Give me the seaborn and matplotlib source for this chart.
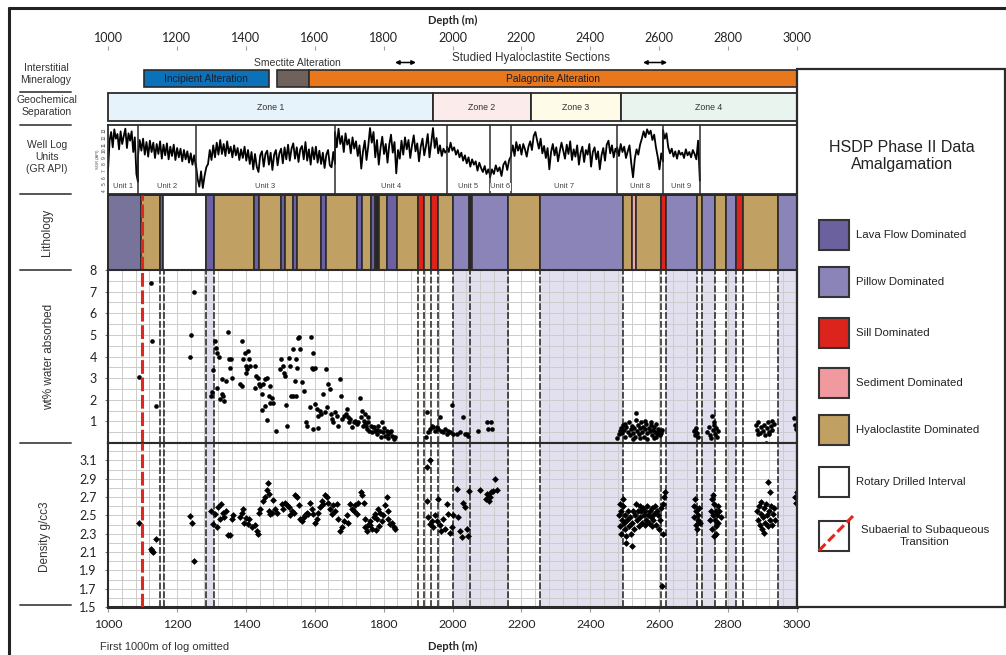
import numpy as np
import pandas as pd
import matplotlib
matplotlib.use('Agg')
import matplotlib.pyplot as plt
import seaborn as sns
from matplotlib.patches import Rectangle
from matplotlib.lines import Line2D

# ---------------- DATA ----------------
DEPTH_TICKS = [1000, 1200, 1400, 1600, 1800, 2000, 2200, 2400, 2600, 2800, 3000]

ALT_LABELS = ['Incipient Alteration', '', 'Palagonite Alteration']
ALT_START = [1104, 1490, 1583]
ALT_END = [1467, 1583, 3000]
ALT_COLORS = ['#0b72b9', '#6f615b', '#e8781b']
STUDIED_START = [1833, 2553]
STUDIED_END = [1894, 2623]

ZONE_LABELS = ['Zone 1', 'Zone 2', 'Zone 3', 'Zone 4']
ZONE_START = [1000, 1943, 2228, 2489]
ZONE_END = [1943, 2228, 2489, 3000]
ZONE_COLORS = ['#e7f3fa', '#fbebeb', '#fefbe9', '#e9f4ef']

UNIT_LABELS = ['Unit 1', 'Unit 2', 'Unit 3', 'Unit 4', 'Unit 5', 'Unit 6', 'Unit 7', 'Unit 8', 'Unit 9']
UNIT_BOUNDS = [1000, 1087, 1255, 1659, 1984, 2109, 2170, 2478, 2611, 2718]

GR_UNIT1 = [7.0, 11.5, 12.8, 10.5, 13.2, 11.8, 12.5, 10.2, 12.9, 11.0, 12.2, 13.3, 10.4, 12.6, 11.5, 12.9, 9.8, 12.0, 6.5, 5.3]
GR_UNIT2 = [9.2, 11.6, 10.0, 11.8, 9.4, 11.3, 9.1, 11.5, 9.8, 11.2, 8.9, 11.0, 9.5, 11.4, 8.8, 10.9, 9.3, 11.1,
            8.7, 10.6, 9.2, 10.9, 8.6, 10.4, 9.0, 10.3, 8.4, 10.1, 8.7, 9.9, 8.2, 9.6, 7.9, 9.3, 7.6]
GR_UNIT3 = [8.0, 5.8, 4.6, 6.9, 4.4, 6.2, 7.5, 8.0, 10.1, 8.6,
            10.8, 9.0, 11.2, 9.4, 11.6, 9.5, 11.0, 9.2, 11.4, 9.6, 10.6,
            9.0, 10.8, 9.3, 10.4, 8.6, 10.2, 8.9, 10.6, 8.5, 10.1,
            8.0, 9.8, 7.2, 9.5, 7.6, 6.8, 9.3, 9.9, 7.6, 9.5,
            10.0, 7.9, 9.7, 7.1, 9.4, 10.1, 7.8, 9.6, 10.3, 8.1,
            10.5, 8.7, 10.9, 8.5, 10.3, 11.1, 8.8, 10.5, 8.3, 10.2,
            10.7, 8.7, 11.3, 8.5, 10.2, 7.9, 10.5, 8.7, 10.6, 8.2,
            10.0, 8.0, 9.7, 7.4, 9.4, 10.1, 7.8, 7.5, 9.8, 8.0]
GR_UNIT4 = [12.8, 10.5, 13.3, 11.0, 12.2, 9.8, 12.6, 10.9, 11.7, 9.6, 12.0, 10.3, 11.4, 9.2, 10.8, 7.3, 9.9, 11.5,
            8.6, 10.7, 13.4, 11.2, 12.8, 9.0, 11.6, 7.9, 10.4, 12.1, 9.5, 11.0, 8.2, 10.9, 12.4, 9.7, 11.3, 6.6,
            10.1, 8.8, 11.5, 9.4, 12.0, 10.2, 11.6, 8.9, 10.8, 12.3, 9.9, 11.1, 8.4, 10.6, 11.8, 9.3, 10.7, 12.5,
            9.0, 11.2, 13.4, 10.4, 11.9, 9.6, 10.8, 9.2, 10.3, 9.7, 10.1]
GR_UNIT5 = [10.6, 9.8, 11.2, 10.0, 10.5, 9.4, 10.1, 9.0, 9.7, 8.5, 9.3, 8.1, 9.0, 7.6, 8.7, 7.9, 8.4, 7.0, 8.2,
            7.4, 6.8, 7.7, 6.5, 7.2, 6.3]
GR_UNIT6 = [6.0, 7.2, 6.5, 7.8, 6.9, 7.5, 6.2, 7.9, 8.4, 7.1, 8.6, 9.2]
GR_UNIT7 = [9.5, 10.8, 9.2, 11.3, 10.0, 10.9, 9.4, 11.0, 10.2, 9.1, 10.6, 11.4, 10.1, 12.2, 12.8, 11.5, 10.3, 11.8,
            9.6, 10.7, 8.9, 10.4, 7.2, 9.8, 11.0, 9.3, 10.5, 8.4, 9.9, 11.2, 10.0, 8.8, 10.9, 9.5, 11.4, 8.6, 10.2,
            9.1, 10.8, 7.9, 9.7, 10.6, 8.3, 10.1, 9.4, 11.0, 7.6, 9.8, 10.5, 8.7, 9.9, 7.2, 9.3, 10.4, 8.5, 10.9,
            11.5, 9.6, 10.8, 9.0, 10.3, 9.7]
GR_UNIT8 = [10.5, 9.2, 11.0, 9.8, 10.6, 8.9, 9.9, 10.8, 8.1, 6.0, 8.8, 10.2, 9.4, 10.9, 11.8, 12.9, 12.0, 13.2,
            12.5, 13.0, 11.6, 12.4, 10.5, 9.1, 7.2, 9.6, 8.4]
GR_UNIT9 = [13.1, 11.8, 12.6, 10.5, 9.6, 10.3, 9.1, 9.9, 8.8, 10.0, 9.4, 9.7, 8.9, 10.2, 9.3, 9.8, 9.0, 10.1,
            9.5, 8.7, 11.5, 5.5]
GR_UNITS = [GR_UNIT1, GR_UNIT2, GR_UNIT3, GR_UNIT4, GR_UNIT5, GR_UNIT6, GR_UNIT7, GR_UNIT8, GR_UNIT9]

LITH_START = [1000, 1096, 1151, 1160, 1284, 1308, 1425, 1439, 1502, 1515, 1536, 1550, 1619, 1633, 1722, 1737,
              1763, 1776, 1788, 1811, 1838, 1899, 1917, 1937, 1957, 2002, 2048, 2057, 2162, 2254, 2496, 2520,
              2533, 2604, 2621, 2710, 2725, 2762, 2793, 2823, 2842, 2946]
LITH_END = LITH_START[1:] + [3000]
LITH_TYPE = ['lava1', 'hyalo', 'lava', 'rotary', 'lava', 'hyalo', 'lava', 'hyalo', 'lava', 'hyalo', 'lava',
             'hyalo', 'lava', 'hyalo', 'lava', 'hyalo', 'lava', 'dark', 'hyalo', 'lava', 'hyalo', 'sill', 'hyalo',
             'sill', 'hyalo', 'pillow', 'dark', 'pillow', 'hyalo', 'pillow', 'hyalo', 'sediment', 'hyalo', 'sill',
             'pillow', 'hyalo', 'pillow', 'hyalo', 'pillow', 'sill', 'hyalo', 'pillow']

SHADE_START = [1284, 2002, 2254, 2621, 2725, 2793, 2946]
SHADE_END = [1308, 2162, 2496, 2710, 2762, 2823, 3000]
BOUNDARY_DEPTHS = [1151, 1162, 1284, 1308, 1899, 1917, 1937, 1957, 2002, 2051, 2162, 2254, 2496, 2604, 2621,
                   2710, 2725, 2762, 2793, 2823, 2842, 2946]
TRANSITION_DEPTH = 1098

LEGEND_LABELS = ['Lava Flow Dominated', 'Pillow Dominated', 'Sill Dominated', 'Sediment Dominated',
                 'Hyaloclastite Dominated', 'Rotary Drilled Interval', 'Subaerial to Subaqueous\nTransition']

# wt% water absorbed (depth m, wt%)
WATER_UPPER = [(1091, 3.07), (1124, 7.39), (1128, 4.71), (1140, 1.69), (1238, 3.99), (1242, 5.01), (1250, 7.0)]
WATER_UNIT3 = [(1298, 2.18), (1302, 2.35), (1306, 3.38), (1311, 4.71), (1313, 4.40), (1317, 4.17), (1322, 4.00),
               (1317, 2.55), (1325, 2.03), (1330, 2.26), (1335, 2.18), (1337, 1.95), (1332, 2.95), (1343, 2.87),
               (1349, 5.12), (1350, 3.87), (1356, 3.87), (1354, 3.49), (1359, 3.02), (1383, 2.72), (1388, 4.71),
               (1388, 2.64), (1393, 3.87), (1398, 4.17), (1400, 3.56), (1402, 3.25), (1407, 4.25), (1410, 3.87),
               (1412, 3.56), (1404, 3.40), (1427, 3.56), (1430, 3.10), (1434, 3.02), (1427, 2.56), (1437, 2.72),
               (1441, 2.64), (1446, 2.26), (1451, 2.72), (1456, 2.95), (1461, 3.02), (1470, 2.64), (1446, 1.53),
               (1456, 1.72), (1461, 1.08), (1466, 2.18), (1470, 1.87), (1475, 2.10), (1480, 1.87), (1487, 0.57),
               (1499, 3.40), (1503, 3.87), (1507, 3.56), (1510, 3.25), (1514, 3.10), (1516, 1.77), (1520, 0.80),
               (1524, 3.95), (1528, 3.56), (1530, 2.18), (1536, 2.18), (1538, 4.33), (1542, 2.87), (1545, 2.18),
               (1547, 3.87), (1549, 3.49), (1551, 4.87), (1555, 4.90), (1557, 4.33), (1562, 2.80), (1569, 2.41),
               (1575, 0.95), (1579, 0.80), (1585, 1.65), (1589, 4.90), (1592, 3.49), (1595, 4.17), (1596, 3.40),
               (1601, 3.49), (1601, 1.80), (1596, 0.65), (1606, 1.57), (1611, 1.26), (1614, 1.50), (1618, 1.34),
               (1625, 2.26), (1630, 1.42), (1633, 3.40), (1635, 1.65), (1640, 2.72), (1643, 2.49), (1648, 1.34),
               (1650, 1.11), (1654, 0.95), (1659, 1.42), (1664, 1.26), (1669, 0.80), (1610, 0.70)]
WATER_UNIT4 = [(1674, 2.95), (1676, 2.18), (1679, 1.11), (1684, 1.26), (1690, 1.35), (1693, 1.57), (1698, 1.19),
               (1700, 0.95), (1703, 1.11), (1708, 0.73), (1713, 0.95), (1717, 1.03), (1722, 0.88), (1727, 0.95),
               (1732, 2.10), (1735, 1.19), (1737, 1.50), (1740, 0.80), (1742, 1.03), (1745, 0.90), (1747, 1.34),
               (1750, 0.80), (1751, 0.65), (1754, 1.19), (1756, 0.95), (1759, 0.57), (1763, 0.80), (1766, 0.50),
               (1768, 0.75), (1771, 0.73), (1775, 0.57), (1780, 0.42), (1782, 0.60), (1785, 0.80), (1790, 0.57),
               (1792, 0.30), (1795, 0.95), (1799, 0.50), (1802, 0.70), (1804, 0.34), (1809, 0.57), (1812, 0.25),
               (1814, 0.42), (1819, 0.50), (1822, 0.55), (1824, 0.34), (1829, 0.19), (1834, 0.27)]
WATER_ZONE2 = [(1923, 0.27), (1925, 1.42), (1930, 0.50), (1935, 0.65), (1940, 0.80), (1944, 0.73), (1949, 0.57),
               (1954, 0.73), (1959, 0.65), (1964, 1.19), (1968, 0.57), (1973, 0.50), (1978, 0.65), (1983, 0.42),
               (1988, 0.57), (1993, 0.50), (1998, 1.75), (2002, 0.42), (2012, 0.42), (2022, 0.50), (2031, 1.19),
               (2036, 0.42), (2041, 0.42), (2046, 0.34), (2075, 0.57), (2099, 0.95), (2104, 0.65), (2113, 0.95),
               (2116, 0.65)]
WATER_ZONE4 = [(2478, 0.25), (2482, 0.40), (2486, 0.55), (2490, 0.70), (2493, 0.45), (2496, 0.85), (2499, 0.60),
               (2500, 0.90), (2502, 0.30), (2505, 0.75), (2508, 0.50), (2511, 0.95), (2514, 0.35), (2517, 0.65),
               (2520, 0.80), (2523, 0.45), (2525, 0.20), (2526, 0.70), (2529, 0.30), (2532, 1.05), (2533, 1.38),
               (2536, 0.55), (2539, 0.85), (2542, 0.40), (2545, 0.70), (2545, 0.25), (2548, 0.95), (2551, 0.50),
               (2554, 0.75), (2557, 0.30), (2560, 0.65), (2560, 1.00), (2563, 0.90), (2565, 0.20), (2566, 0.45),
               (2569, 0.70), (2572, 0.55), (2575, 0.85), (2575, 0.95), (2578, 0.35), (2581, 0.60), (2584, 0.75),
               (2585, 0.25), (2587, 0.50), (2590, 0.90), (2590, 0.30), (2593, 0.40), (2596, 0.65), (2599, 0.55),
               (2602, 0.35), (2605, 0.45), (2609, 0.60),
               (2700, 0.55), (2703, 0.35), (2704, 0.60), (2706, 0.70), (2709, 0.45), (2712, 0.30),
               (2740, 0.50), (2744, 0.75), (2748, 0.35), (2750, 0.25), (2752, 1.26), (2755, 0.60), (2758, 0.85),
               (2760, 0.95), (2761, 0.40), (2764, 0.70), (2767, 0.30), (2770, 0.55),
               (2880, 0.85), (2884, 0.60), (2886, 0.40), (2888, 0.95), (2892, 0.45), (2896, 0.75), (2900, 0.55),
               (2904, 0.85), (2908, 0.35), (2910, 0.02), (2912, 0.70), (2916, 0.95), (2918, 0.40), (2920, 0.50),
               (2924, 0.80), (2926, 1.00), (2928, 0.60), (2932, 0.90),
               (2992, 1.15), (2995, 0.85), (2997, 0.65)]

# Density g/cc3 (depth m, g/cc)
DENS_UPPER = [(1091, 2.42), (1124, 2.13), (1127, 2.11), (1132, 2.10), (1140, 2.24), (1238, 2.49), (1243, 2.42),
              (1251, 2.00)]
DENS_UNIT3 = [(1298, 2.55), (1306, 2.41), (1311, 2.52), (1315, 2.37), (1320, 2.59), (1325, 2.46), (1328, 2.62),
              (1333, 2.53), (1337, 2.48), (1343, 2.55), (1349, 2.29), (1354, 2.29), (1359, 2.46), (1364, 2.50),
              (1383, 2.48), (1388, 2.53), (1391, 2.57), (1395, 2.42), (1401, 2.47), (1405, 2.41), (1410, 2.46),
              (1417, 2.37), (1427, 2.39), (1432, 2.33), (1434, 2.30), (1437, 2.53), (1440, 2.57), (1451, 2.66),
              (1456, 2.70), (1461, 2.78), (1463, 2.85), (1466, 2.55), (1466, 2.73), (1470, 2.52), (1475, 2.53),
              (1480, 2.67), (1485, 2.57), (1490, 2.53), (1504, 2.62), (1509, 2.57), (1514, 2.64), (1519, 2.61),
              (1524, 2.59), (1529, 2.50), (1534, 2.55), (1539, 2.53), (1544, 2.72), (1548, 2.70), (1553, 2.61),
              (1558, 2.46), (1563, 2.44), (1568, 2.48), (1572, 2.50), (1577, 2.53), (1582, 2.52), (1587, 2.64),
              (1592, 2.57), (1596, 2.52), (1601, 2.42), (1606, 2.46), (1611, 2.53), (1616, 2.59), (1621, 2.66),
              (1625, 2.62), (1630, 2.72), (1635, 2.70), (1640, 2.64), (1645, 2.57), (1650, 2.52), (1654, 2.61)]
DENS_UNIT4 = [(1659, 2.55), (1664, 2.62), (1669, 2.46), (1674, 2.33), (1679, 2.37), (1684, 2.44), (1693, 2.50),
              (1698, 2.42), (1703, 2.62), (1708, 2.57), (1713, 2.55), (1717, 2.61), (1722, 2.52), (1727, 2.64),
              (1734, 2.76), (1737, 2.72), (1742, 2.64), (1745, 2.46), (1747, 2.37), (1751, 2.33), (1756, 2.39),
              (1761, 2.44), (1766, 2.35), (1771, 2.48), (1775, 2.52), (1778, 2.34), (1780, 2.46), (1785, 2.57),
              (1790, 2.53), (1795, 2.44), (1799, 2.50), (1804, 2.61), (1809, 2.70), (1814, 2.46), (1819, 2.41),
              (1824, 2.42), (1829, 2.37), (1834, 2.35), (1760, 2.40), (1788, 2.38), (1812, 2.55)]
DENS_ZONE2 = [(1925, 3.03), (1935, 3.10), (1925, 2.66), (1930, 2.48), (1935, 2.41), (1940, 2.44), (1944, 2.37),
              (1949, 2.50), (1954, 2.44), (1959, 2.68), (1964, 2.39), (1968, 2.33), (1973, 2.46), (1978, 2.35),
              (1983, 2.62), (1988, 2.52), (1993, 2.31), (1998, 2.37), (2002, 2.50), (2012, 2.79), (2017, 2.48),
              (2022, 2.33), (2027, 2.26), (2031, 2.64), (2036, 2.59), (2041, 2.35), (2046, 2.28), (2049, 2.77),
              (2080, 2.78), (2096, 2.68), (2099, 2.73), (2105, 2.66), (2109, 2.70), (2113, 2.75), (2119, 2.77),
              (2124, 2.90), (2128, 2.78)]
DENS_ZONE4 = [(2482, 2.50), (2485, 2.38), (2486, 2.62), (2488, 2.55), (2490, 2.30), (2492, 2.45), (2494, 2.60),
              (2496, 2.68), (2497, 2.42), (2500, 2.35), (2502, 2.50), (2503, 2.20), (2505, 2.27), (2507, 2.45),
              (2510, 2.55), (2512, 2.38), (2515, 2.48), (2518, 2.30), (2520, 2.17), (2522, 2.42), (2525, 2.55),
              (2528, 2.35), (2530, 2.50), (2533, 2.62), (2535, 2.45), (2538, 2.55), (2540, 2.38), (2543, 2.60),
              (2545, 2.48), (2548, 2.55), (2550, 2.42), (2553, 2.58), (2555, 2.50), (2558, 2.40), (2560, 2.55),
              (2563, 2.45), (2565, 2.60), (2568, 2.50), (2570, 2.42), (2573, 2.55), (2575, 2.48), (2578, 2.38),
              (2580, 2.58), (2583, 2.45), (2585, 2.52), (2588, 2.60), (2590, 2.40), (2593, 2.55), (2596, 2.50),
              (2598, 2.35), (2601, 2.45), (2604, 2.58), (2607, 1.73), (2610, 2.30), (2612, 2.62), (2615, 2.70),
              (2617, 2.75),
              (2700, 2.60), (2702, 2.48), (2704, 2.68), (2706, 2.40), (2708, 2.55), (2710, 2.35), (2712, 2.50),
              (2714, 2.45), (2716, 2.58), (2718, 2.42),
              (2748, 2.45), (2750, 2.55), (2752, 2.35), (2754, 2.68), (2756, 2.50), (2757, 2.72), (2758, 2.28),
              (2760, 2.62), (2762, 2.45), (2764, 2.55), (2765, 2.30), (2766, 2.38), (2768, 2.50), (2770, 2.60),
              (2772, 2.42), (2775, 2.55), (2778, 2.48),
              (2883, 2.55), (2886, 2.45), (2889, 2.60), (2892, 2.40), (2895, 2.52), (2895, 2.65), (2898, 2.35),
              (2900, 2.48), (2903, 2.58), (2904, 2.31), (2906, 2.42), (2909, 2.62), (2912, 2.50), (2915, 2.38),
              (2917, 2.86), (2918, 2.55), (2921, 2.45), (2922, 2.75), (2924, 2.60), (2927, 2.40), (2930, 2.52),
              (2933, 2.58), (2936, 2.45),
              (2995, 2.70), (2998, 2.64), (3000, 2.75)]

# ---------------- STYLE ----------------
sns.set_theme(style='white')
plt.rcParams['font.family'] = ['Liberation Sans', 'DejaVu Sans']
NUMFONT = 'Lato'
EDGE = '#2b2b2b'
LITH_COLORS = {'lava1': '#78739a', 'lava': '#6b60a2', 'pillow': '#8b84b9', 'sill': '#dc241c',
               'sediment': '#f4a3ab', 'hyalo': '#c1a063', 'rotary': '#ffffff', 'dark': '#2b2522'}
LEGEND_COLORS = ['#6b619f', '#8b84b9', '#dc241c', '#f09aa0', '#c1a063', '#ffffff']
RED = '#e0261d'

W, H = 1006, 655
fig = plt.figure(figsize=(W / 100, H / 100), dpi=100)
fig.patch.set_facecolor('white')


def add_ax(y0, y1, x0=108, x1=797):
    return fig.add_axes([x0 / W, 1 - y1 / H, (x1 - x0) / W, (y1 - y0) / H])


def ftext(x, y, s, **kw):
    return fig.text(x / W, 1 - y / H, s, **kw)


def fline(xs, ys, **kw):
    fig.add_artist(Line2D([x / W for x in xs], [1 - y / H for y in ys], transform=fig.transFigure, **kw))


def hide_spines(ax):
    for s in ax.spines.values():
        s.set_visible(False)


def frame(ax, lw=1.4, color=EDGE):
    for s in ax.spines.values():
        s.set_visible(True)
        s.set_linewidth(lw)
        s.set_color(color)


# ---------------- Mineralogy + top depth axis ----------------
ax_min = add_ax(50, 88)
ax_min.set_xlim(1000, 3000)
ax_min.set_ylim(88, 50)
ax_min.patch.set_alpha(0)
hide_spines(ax_min)
ax_min.xaxis.tick_top()
ax_min.set_xticks(DEPTH_TICKS)
ax_min.set_xticklabels([str(t) for t in DEPTH_TICKS], fontfamily=NUMFONT, fontsize=9, color='#222')
ax_min.tick_params(axis='x', top=True, bottom=False, length=3, width=0.8, color='#a0a0a0', pad=1.5)
ax_min.set_yticks([])
ax_min.barh(y=78.5, width=np.array(ALT_END) - np.array(ALT_START), left=ALT_START, height=17,
            color=ALT_COLORS, edgecolor=EDGE, linewidth=1.2, clip_on=False)
for s, e, lab in zip(ALT_START, ALT_END, ALT_LABELS):
    if lab:
        ax_min.text((s + e) / 2, 78.8, lab, ha='center', va='center', fontsize=7.4, color='#1c1c2a')
ax_min.text(1549, 63, 'Smectite Alteration', ha='center', va='center', fontsize=7.5, color='#333')
ax_min.text(2228, 57.5, 'Studied Hyaloclastite Sections', ha='center', va='center', fontsize=8.5, color='#333')
for s, e in zip(STUDIED_START, STUDIED_END):
    ax_min.annotate('', xy=(e, 62.5), xytext=(s, 62.5),
                    arrowprops=dict(arrowstyle='<|-|>', color='black', lw=1.1, mutation_scale=6,
                                    shrinkA=0, shrinkB=0), annotation_clip=False)
ftext(453, 20, 'Depth (m)', ha='center', va='center', fontsize=8, fontweight='bold', fontfamily=NUMFONT)

# ---------------- Geochemical zones ----------------
ax_z = add_ax(93, 121)
ax_z.set_xlim(1000, 3000)
ax_z.set_ylim(0, 1)
hide_spines(ax_z)
ax_z.set_xticks([])
ax_z.set_yticks([])
ax_z.barh(y=0.5, width=np.array(ZONE_END) - np.array(ZONE_START), left=ZONE_START, height=1,
          color=ZONE_COLORS, edgecolor=EDGE, linewidth=1.3, clip_on=False)
for s, e, lab in zip(ZONE_START, ZONE_END, ZONE_LABELS):
    ax_z.text((s + e) / 2, 0.5, lab, ha='center', va='center', fontsize=6.3, color='#333')

# ---------------- Well log ----------------
ax_log = add_ax(125, 194)
gr_depth, gr_val = [], []
for i, vals in enumerate(GR_UNITS):
    gr_depth.extend(np.linspace(UNIT_BOUNDS[i], UNIT_BOUNDS[i + 1], len(vals)))
    gr_val.extend(vals)
gr_df = pd.DataFrame({'depth': gr_depth, 'gr': gr_val})
sns.lineplot(data=gr_df, x='depth', y='gr', sort=False, estimator=None, color='black', linewidth=1.3,
             ax=ax_log)
ax_log.set_xlim(1000, 3000)
ax_log.set_ylim(3.5, 13.85)
for b in UNIT_BOUNDS[1:]:
    ax_log.axvline(b, color=EDGE, lw=1.1)
for i, lab in enumerate(UNIT_LABELS):
    ax_log.text((UNIT_BOUNDS[i] + UNIT_BOUNDS[i + 1]) / 2, 4.55, lab, ha='center', va='center', fontsize=5.5,
                color='#444', bbox=dict(facecolor='white', edgecolor='none', pad=0.3))
frame(ax_log, 1.3)
ax_log.set_xticks([])
ax_log.set_xlabel('')
ax_log.set_yticks(range(4, 14))
ax_log.set_yticklabels([str(v) for v in range(4, 14)], fontsize=3.5, rotation=90, va='center', color='#444')
ax_log.tick_params(axis='y', length=0, pad=1)
ax_log.set_ylabel('SGR (API)', fontsize=3, color='#444', labelpad=1)

# ---------------- Lithology ----------------
ax_lith = add_ax(195, 270)
ax_lith.set_xlim(1000, 3000)
ax_lith.set_ylim(0, 1)
ax_lith.barh(y=0.5, width=np.array(LITH_END) - np.array(LITH_START), left=LITH_START, height=1,
             color=[LITH_COLORS[t] for t in LITH_TYPE], edgecolor=EDGE, linewidth=1.2, clip_on=False)
frame(ax_lith, 1.4)
ax_lith.set_xticks([])
ax_lith.set_yticks([])
ax_lith.axvline(TRANSITION_DEPTH, color=RED, lw=2.2, linestyle=(0, (4.5, 1.2)), zorder=5)

# ---------------- Scatter panels ----------------
water = pd.DataFrame(WATER_UPPER + WATER_UNIT3 + WATER_UNIT4 + WATER_ZONE2 + WATER_ZONE4,
                     columns=['depth', 'wt'])
dens = pd.DataFrame(DENS_UPPER + DENS_UNIT3 + DENS_UNIT4 + DENS_ZONE2 + DENS_ZONE4, columns=['depth', 'rho'])

ax_w = add_ax(270, 443)
ax_d = add_ax(443, 607)

for ax, ylim, ygrid in [(ax_w, (0, 8), np.arange(0.5, 8.0, 0.5)),
                        (ax_d, (1.5, 3.29), np.arange(1.6, 3.25, 0.1))]:
    ax.set_xlim(1000, 3000)
    ax.set_ylim(*ylim)
    for s, e in zip(SHADE_START, SHADE_END):
        ax.axvspan(s, e, color='#e2dfee', lw=0, zorder=0)
    for gx in np.arange(1040, 3000, 40):
        ax.axvline(gx, color='#cccccc', lw=0.7, zorder=1)
    for gy in ygrid:
        ax.axhline(gy, color='#cccccc', lw=0.7, zorder=1)
    for b in BOUNDARY_DEPTHS:
        ax.axvline(b, color='#231f1c', lw=1.1, linestyle=(0, (4.5, 1.3)), zorder=2)
    ax.axvline(TRANSITION_DEPTH, color=RED, lw=2.2, linestyle=(0, (4.5, 1.2)), zorder=5)
    frame(ax, 1.5)

sns.scatterplot(data=water, x='depth', y='wt', ax=ax_w, color='black', s=11, marker='o', linewidth=0, zorder=4)
sns.scatterplot(data=dens, x='depth', y='rho', ax=ax_d, color='black', s=12, marker='D', linewidth=0, zorder=4)

ax_w.set_xlabel('')
ax_w.set_ylabel('')
ax_w.set_xticks([])
ax_w.set_yticks(range(1, 9))
ax_w.set_yticklabels([str(v) for v in range(1, 9)], fontfamily=NUMFONT, fontsize=9, color='#222')
ax_w.tick_params(axis='y', left=True, length=2.5, width=0.8, color='#777', pad=5.5)

ax_d.set_xlabel('')
ax_d.set_ylabel('')
dticks = [1.5, 1.7, 1.9, 2.1, 2.3, 2.5, 2.7, 2.9, 3.1]
ax_d.set_yticks(dticks)
ax_d.set_yticklabels([f'{v:.1f}' for v in dticks], fontfamily=NUMFONT, fontsize=9, color='#222')
ax_d.tick_params(axis='y', left=True, length=2.5, width=0.8, color='#777', pad=5.5)
ax_d.set_xticks(DEPTH_TICKS)
ax_d.set_xticklabels([str(t) for t in DEPTH_TICKS], fontfamily=NUMFONT, fontsize=8.8, color='#222')
ax_d.tick_params(axis='x', bottom=True, length=3.5, width=0.8, color='#999', pad=5)
ax_d.spines['bottom'].set_linewidth(2.2)

ftext(453, 646, 'Depth (m)', ha='center', va='center', fontsize=8, fontweight='bold', fontfamily=NUMFONT)
ftext(100, 647, 'First 1000m of log omitted', ha='left', va='center', fontsize=8, color='#333')

# ---------------- Left labels ----------------
lab_kw = dict(ha='center', va='center', color='#333')
ftext(46, 74, 'Interstitial\nMineralogy', fontsize=7.5, linespacing=1.15, **lab_kw)
ftext(47, 106, 'Geochemical\nSeparation', fontsize=7.5, linespacing=1.15, **lab_kw)
ftext(47, 157, 'Well Log\nUnits\n(GR API)', fontsize=7.5, linespacing=1.2, **lab_kw)
ftext(47, 232, 'Lithology', fontsize=8.5, rotation=90, **lab_kw)
ftext(49, 357, 'wt% water absorbed', fontsize=8.5, rotation=90, **lab_kw)
ftext(45, 537, 'Density g/cc3', fontsize=8.5, rotation=90, **lab_kw)
for yy in [92, 125, 194, 270, 443, 605]:
    fline([20, 71], [yy, yy], color='#555', lw=1.4)

# ---------------- Legend box ----------------
ax_leg = fig.add_axes([797 / W, 1 - 607 / H, 208 / W, 538 / H])
ax_leg.set_xlim(797, 1005)
ax_leg.set_ylim(607, 69)
ax_leg.axis('off')
ax_leg.add_patch(Rectangle((797, 69), 208, 538, facecolor='white', edgecolor=EDGE, lw=1.6, clip_on=False))
ax_leg.text(902, 156, 'HSDP Phase II Data\nAmalgamation', ha='center', va='center', fontsize=11.5,
            color='#222', linespacing=1.2)
sq_top = [220, 267, 318, 368, 415, 467, 521]
for i, lab in enumerate(LEGEND_LABELS):
    y0 = sq_top[i]
    fc = LEGEND_COLORS[i] if i < len(LEGEND_COLORS) else 'white'
    ax_leg.add_patch(Rectangle((819, y0), 30, 29.5, facecolor=fc, edgecolor='#333', lw=1.5))
    if i < 6:
        ax_leg.text(856, y0 + 15, lab, ha='left', va='center', fontsize=8.2, color='#222')
    else:
        ax_leg.text(925, y0 + 15, lab, ha='center', va='center', fontsize=8.2, color='#222', linespacing=1.35)
ax_leg.plot([819, 853], [550.5, 516], color=RED, lw=2.2, linestyle=(0, (3.0, 1.3)), clip_on=False)

# ---------------- Outer frame ----------------
fline([9, 1006], [7.5, 7.5], color='#222', lw=2.2)
fline([9, 9], [7.5, 655], color='#222', lw=2.2)

fig.savefig('out.png', dpi=100)
